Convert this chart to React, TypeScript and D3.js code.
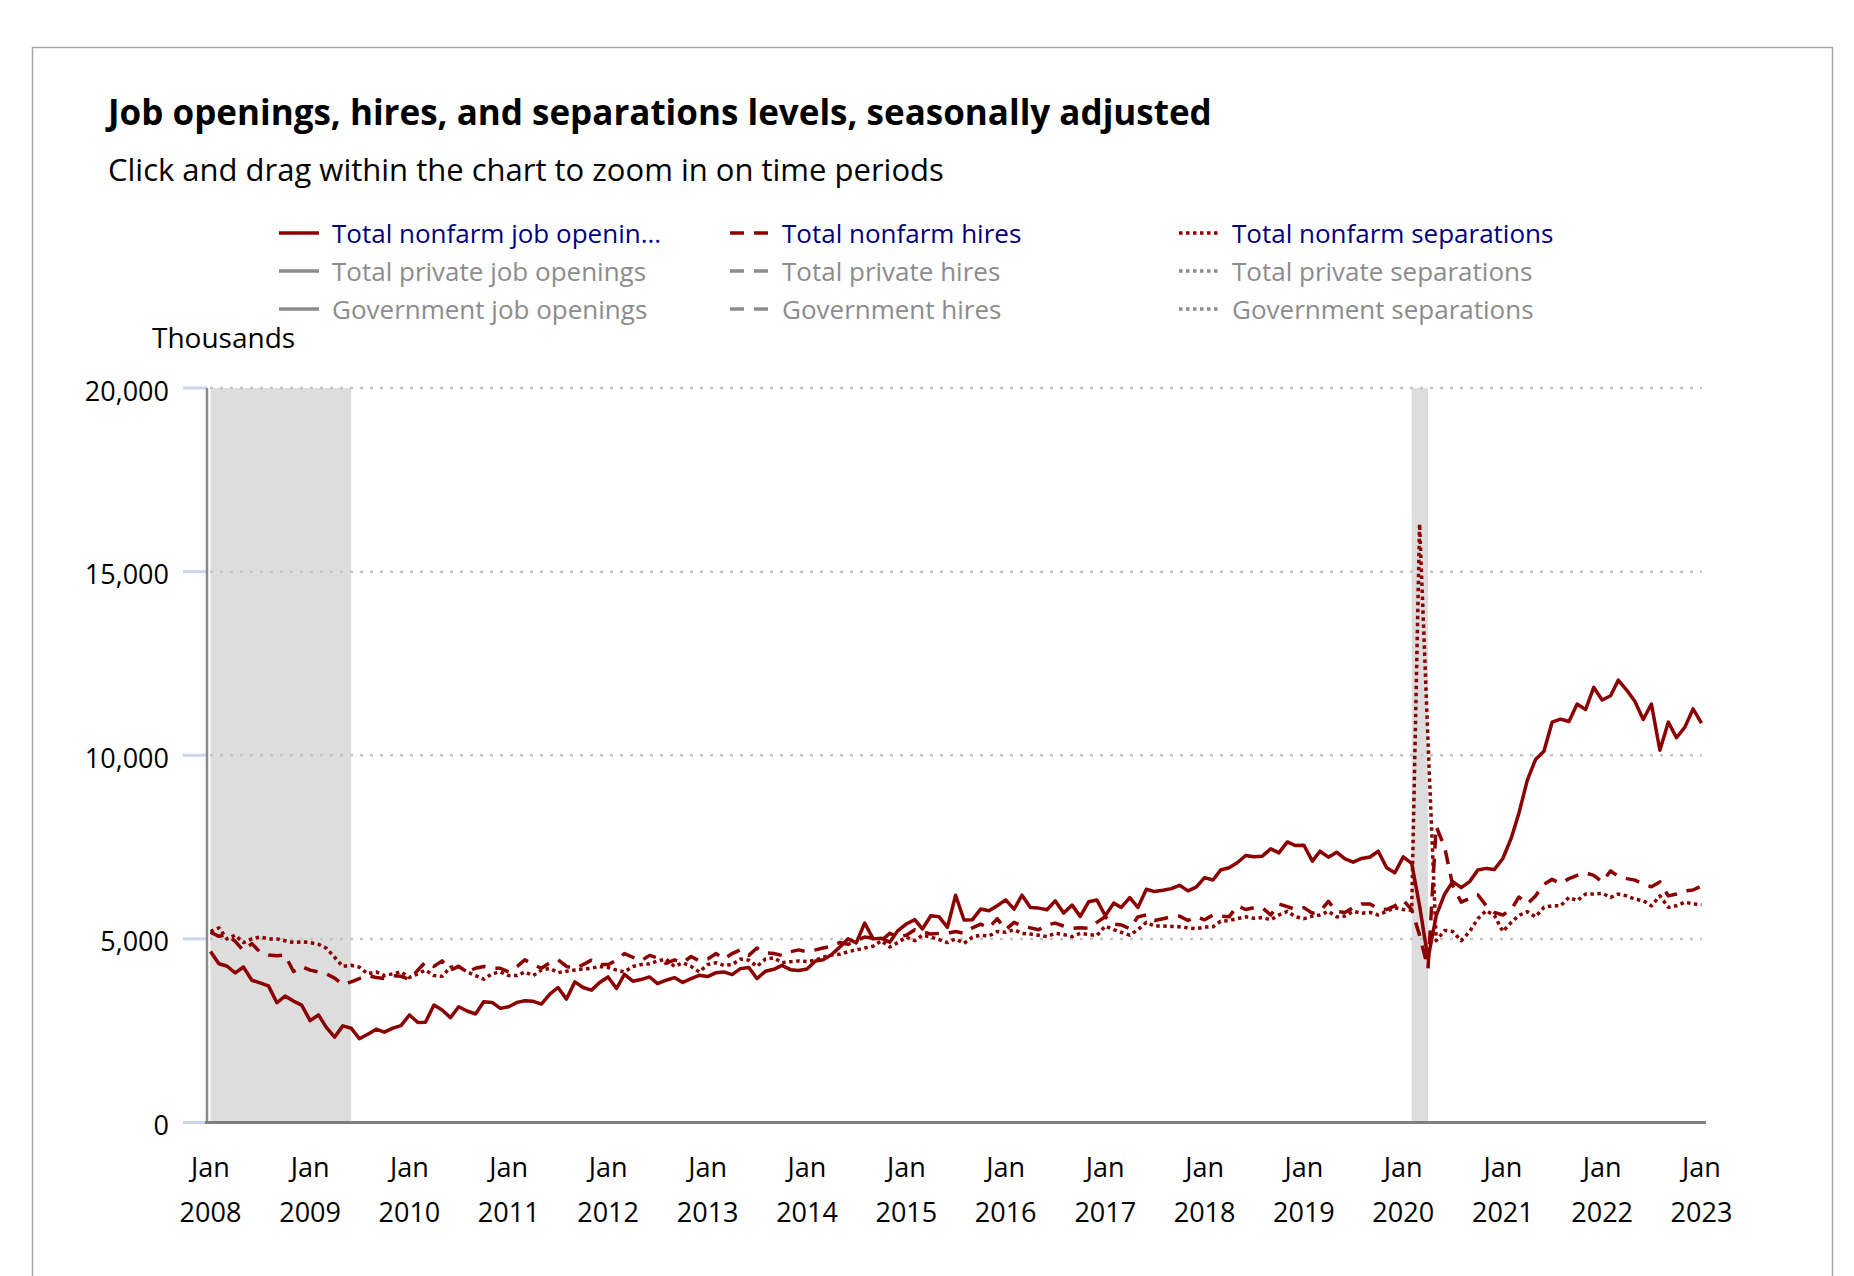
import { format, line as d3Line, scaleLinear, scaleTime } from "d3";

// Monthly levels in thousands, Jan 2008 .. Jan 2023 (one row per year)
const openings = [
  4657, 4324, 4261, 4072, 4234, 3874, 3802, 3721, 3261, 3441, 3306, 3198,
  2775, 2928, 2595, 2324, 2631, 2568, 2279, 2405, 2541, 2459, 2568, 2640,
  2928, 2721, 2730, 3198, 3063, 2856, 3153, 3036, 2955, 3288, 3270, 3108,
  3153, 3270, 3315, 3300, 3225, 3495, 3676, 3360, 3829, 3676, 3604, 3811,
  3964, 3649, 4036, 3847, 3892, 3964, 3784, 3874, 3946, 3811, 3919, 4009,
  3973, 4080, 4100, 4027, 4190, 4220, 3919, 4117, 4171, 4279, 4162, 4140,
  4180, 4400, 4430, 4568, 4775, 5000, 4892, 5432, 5000, 5018, 4910, 5225,
  5405, 5523, 5270, 5631, 5604, 5315, 6189, 5514, 5523, 5811, 5766, 5901,
  6063, 5811, 6189, 5856, 5838, 5793, 6036, 5703, 5919, 5613, 6010, 6060,
  5631, 5973, 5856, 6126, 5856, 6351, 6288, 6324, 6369, 6459, 6306, 6410,
  6667, 6603, 6874, 6937, 7072, 7270, 7234, 7252, 7450, 7342, 7640, 7541,
  7550, 7117, 7387, 7225, 7360, 7180, 7090, 7190, 7230, 7387, 6937, 6800,
  7234, 7054, 5900, 4459, 5631, 6216, 6559, 6396, 6559, 6874, 6919, 6892,
  7189, 7748, 8423, 9324, 9883, 10108, 10901, 10982, 10919, 11396, 11243, 11847,
  11504, 11622, 12045, 11775, 11468, 10973, 11396, 10135, 10901, 10477, 10766, 11261,
  10874,
];

const hires = [
  5180, 5070, 5120, 4930, 4680, 4870, 4640, 4560, 4540, 4560, 4110, 4250,
  4150, 4100, 4050, 3930, 3760, 3830, 3920, 4000, 3950, 3920, 4000, 3980,
  3900, 4150, 4370, 4250, 4400, 4150, 4250, 4100, 4200, 4250, 4200, 4200,
  4100, 4250, 4430, 4300, 4200, 4350, 4430, 4250, 4200, 4300, 4420, 4300,
  4300, 4420, 4600, 4500, 4400, 4550, 4480, 4330, 4430, 4350, 4520, 4400,
  4450, 4600, 4450, 4600, 4700, 4550, 4750, 4620, 4600, 4550, 4650, 4700,
  4650, 4700, 4750, 4800, 4900, 4850, 4950, 5050, 5020, 4950, 5150, 5050,
  5100, 5250, 5200, 5130, 5150, 5150, 5200, 5150, 5300, 5400, 5300, 5550,
  5250, 5450, 5350, 5300, 5250, 5380, 5430, 5350, 5290, 5300, 5290, 5450,
  5600, 5400, 5380, 5280, 5600, 5650, 5500, 5550, 5600, 5620, 5500, 5600,
  5520, 5650, 5620, 5600, 5900, 5800, 5850, 5850, 5650, 5950, 5880, 5800,
  5850, 5700, 5750, 6020, 5750, 5720, 5850, 5950, 5950, 5820, 5800, 5900,
  6050, 5800, 5100, 4190, 8063, 7500, 6450, 6000, 6100, 6200, 5900, 5720,
  5650, 5800, 6140, 5950, 6170, 6490, 6620, 6510, 6640, 6730, 6800, 6730,
  6550, 6850, 6700, 6640, 6600, 6490, 6420, 6550, 6170, 6220, 6310, 6330,
  6440,
];

const separations = [
  5200, 5300, 5000, 5100, 4900, 5000, 5050, 5000, 5000, 4950, 4900, 4920,
  4900, 4850, 4750, 4500, 4250, 4280, 4230, 4050, 4100, 4000, 4050, 4100,
  3950, 4050, 4150, 4000, 3980, 4230, 4250, 4100, 4000, 3900, 4050, 4100,
  4000, 4000, 4100, 4000, 4150, 4200, 4080, 4120, 4150, 4180, 4200, 4250,
  4220, 4150, 4100, 4250, 4300, 4320, 4400, 4450, 4250, 4350, 4250, 4100,
  4300, 4350, 4280, 4300, 4450, 4420, 4250, 4450, 4480, 4350, 4380, 4400,
  4380, 4420, 4500, 4560, 4580, 4650, 4700, 4750, 4800, 4950, 4780, 4900,
  5050, 4950, 5100, 5050, 4980, 4900, 5000, 4880, 5050, 5100, 5080, 5200,
  5180, 5250, 5150, 5130, 5100, 5060, 5150, 5120, 5060, 5150, 5120, 5090,
  5350, 5250, 5180, 5100, 5250, 5450, 5350, 5350, 5340, 5330, 5300, 5280,
  5320, 5330, 5480, 5500, 5550, 5600, 5560, 5580, 5520, 5650, 5750, 5600,
  5550, 5620, 5650, 5750, 5600, 5620, 5750, 5700, 5720, 5650, 5750, 5850,
  5800, 5780, 16300, 10400, 4950, 5230, 5200, 4950, 5200, 5550, 5770, 5640,
  5200, 5450, 5640, 5740, 5600, 5860, 5900, 5900, 6130, 6040, 6220, 6220,
  6240, 6130, 6220, 6170, 6080, 6040, 5900, 6170, 5860, 5900, 6000, 5950,
  5930,
];

const yTicks = [0, 5000, 10000, 15000, 20000];
const xTickYears = [
  2008, 2009, 2010, 2011, 2012, 2013, 2014, 2015, 2016, 2017, 2018, 2019, 2020,
  2021, 2022, 2023,
];
// NBER recessions [start, end] as [year, monthIndex]
const recessions: [number, number, number, number][] = [
  [2007, 11, 2009, 5],
  [2020, 1, 2020, 3],
];

const legendNames = [
  "Total nonfarm job openin...",
  "Total nonfarm hires",
  "Total nonfarm separations",
  "Total private job openings",
  "Total private hires",
  "Total private separations",
  "Government job openings",
  "Government hires",
  "Government separations",
];

const RED = "#8b0000";
const GREY = "#8c8c8c";
const FONT = "'Segoe UI', 'Open Sans', sans-serif";
const DASH = "14,10";
const DOT = "3.5,3.5";
const dashFor = ["none", DASH, DOT];

export default function App() {
  const width = 1854;
  const height = 1276;
  const plot = { left: 207, right: 1706, top: 388, bottom: 1122.5 };

  const x = scaleTime()
    .domain([new Date(2008, 0, 1), new Date(2023, 0, 1)])
    .range([210.5, 1701.5]);
  const y = scaleLinear().domain([0, 20000]).range([plot.bottom, plot.top]);
  const monthDate = (i: number) => new Date(2008, i, 1);

  const lineGen = d3Line<number>()
    .x((_, i) => x(monthDate(i)))
    .y((d) => y(d));

  const series = [
    { values: openings, dash: "none" },
    { values: hires, dash: DASH },
    { values: separations, dash: DOT },
  ];

  const fmt = format(",");
  const xStart = x.domain()[0];

  return (
    <div style={{ position: "absolute", left: 0, top: 0 }}>
      <svg width={width} height={height} style={{ display: "block", background: "#fff" }}>
        <rect x={32.5} y={47.5} width={1800} height={1300} fill="#fff" stroke="#a6a6a6" strokeWidth={1.5} />

        <text x={108} y={125} fontFamily={FONT} fontWeight={700} fontSize={35} fill="#000">
          Job openings, hires, and separations levels, seasonally adjusted
        </text>
        <text x={108} y={181} fontFamily={FONT} fontSize={31} fill="#000">
          Click and drag within the chart to zoom in on time periods
        </text>

        {legendNames.map((name, i) => {
          const col = i % 3;
          const row = Math.floor(i / 3);
          const lx = [279, 730, 1179][col];
          const tx = [332, 782, 1232][col];
          const ly = 233 + row * 38;
          const active = row === 0;
          return (
            <g key={name}>
              <line
                x1={lx}
                x2={lx + 40}
                y1={ly}
                y2={ly}
                stroke={active ? RED : GREY}
                strokeWidth={3.5}
                strokeDasharray={dashFor[col]}
              />
              <text
                x={tx}
                y={ly}
                dominantBaseline="central"
                fontFamily={FONT}
                fontSize={26}
                fill={active ? "#000080" : GREY}
              >
                {name}
              </text>
            </g>
          );
        })}

        <text x={152} y={348} fontFamily={FONT} fontSize={28} fill="#000">
          Thousands
        </text>

        {recessions.map(([y0, m0, y1, m1]) => {
          let s = new Date(y0, m0, 1);
          if (s < xStart) s = xStart;
          const e = new Date(y1, m1, 1);
          return (
            <rect
              key={`${y0}-${m0}`}
              x={x(s)}
              y={plot.top}
              width={x(e) - x(s)}
              height={plot.bottom - plot.top}
              fill="#dddddd"
            />
          );
        })}

        {yTicks.map((t) => (
          <g key={t}>
            {t > 0 && (
              <line
                x1={210}
                x2={1702}
                y1={y(t)}
                y2={y(t)}
                stroke="#c4c4c4"
                strokeWidth={2.5}
                strokeDasharray="3,7"
              />
            )}
            <line x1={183} x2={207} y1={y(t)} y2={y(t)} stroke="#ccd6eb" strokeWidth={3} />
            <text
              x={169}
              y={y(t) + 2}
              textAnchor="end"
              dominantBaseline="central"
              fontFamily={FONT}
              fontSize={27}
              fill="#000"
            >
              {fmt(t)}
            </text>
          </g>
        ))}

        <line x1={plot.left} x2={plot.left} y1={plot.top} y2={plot.bottom} stroke="#8a8a8a" strokeWidth={2.5} />
        <line x1={205} x2={plot.right} y1={plot.bottom} y2={plot.bottom} stroke="#808080" strokeWidth={3} />

        {xTickYears.map((yr) => {
          const tx = x(new Date(yr, 0, 1));
          return (
            <g key={yr} fontFamily={FONT} fontSize={27} fill="#000" textAnchor="middle">
              <text x={tx} y={1166} dominantBaseline="central">
                Jan
              </text>
              <text x={tx} y={1211} dominantBaseline="central">
                {yr}
              </text>
            </g>
          );
        })}

        {series.map((s, i) => (
          <path
            key={i}
            d={lineGen(s.values) ?? ""}
            fill="none"
            stroke={RED}
            strokeWidth={3.5}
            strokeDasharray={s.dash}
            strokeLinejoin="round"
          />
        ))}
      </svg>
    </div>
  );
}
